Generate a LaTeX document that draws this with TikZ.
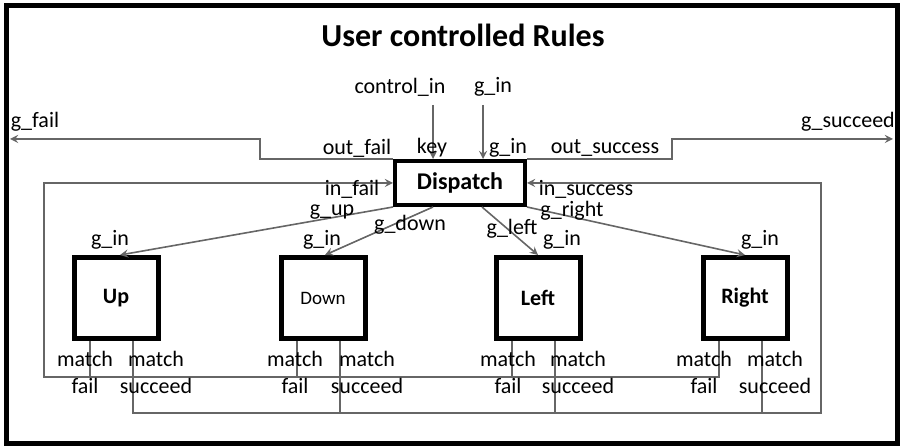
\documentclass[tikz,border=0pt]{standalone}
\usepackage{fontspec}
\setmainfont{Carlito}
\usepackage{tikz}
\usetikzlibrary{shapes.geometric, arrows}
\tikzstyle{rulebox} = [rectangle, minimum width=42pt, minimum height=40.5pt, text centered, draw=black, line width=2.5pt, font=\bfseries\fontsize{11}{13}\selectfont]
\tikzstyle{dispatcher} = [rectangle, minimum width=65pt, minimum height=22pt, text centered, draw=black, line width=2pt, font=\bfseries\fontsize{12}{14}\selectfont]
\tikzstyle{port} = [inner sep=0pt, align=center, font=\fontsize{11}{13.5}\selectfont]
\tikzstyle{wire} = [line width=0.8pt, draw=black!60]
\tikzstyle{arrow} = [wire,->,>=stealth]

\begin{document}
\begin{tikzpicture}[x=0.5pt, y=-0.5pt]
\useasboundingbox (0,0) rectangle (901,448);
\draw [line width=2.5pt] (6,6) rectangle (897,444);
\node (title) [font=\bfseries\fontsize{16}{18}\selectfont] at (463,35) {User controlled Rules};
\node (dispatch) [dispatcher] at (460,183) {Dispatch};
\node (up) [rulebox] at (116,298) {Up};
\node (down) [rulebox, font=\fontsize{9.5}{11}\selectfont] at (323,298) {Down};
\node (left) [rulebox] at (538,298) {Left};
\node (right) [rulebox] at (745,298) {Right};
\coordinate (ctrlsrc) at (433,105);
\coordinate (ginsrc) at (483,105);
\coordinate (gfail) at (10,139);
\coordinate (gsucceed) at (893,139);
\coordinate (failbus) at (44,377);
\coordinate (succbus) at (821,413);
% inputs and global outputs
\draw [arrow] (ctrlsrc) -- (ctrlsrc |- dispatch.north);
\draw [arrow] (ginsrc) -- (ginsrc |- dispatch.north);
\draw [arrow] (dispatch.north west) -- ++(-133,0) |- (gfail);
\draw [arrow] (dispatch.north east) -- ++(145,0) |- (gsucceed);
% dispatch to the rules
\draw [arrow] (dispatch.south west) -- ([xshift=2pt]up.north);
\draw [arrow] ([xshift=-13.5pt]dispatch.south) -- ([xshift=1pt]down.north);
\draw [arrow] ([xshift=11pt]dispatch.south) -- (left.north);
\draw [arrow] (dispatch.south east) -- (right.north);
% fail bus
\draw [arrow] ([xshift=-13pt]right.south) |- (failbus) |- (dispatch.west);
\draw [wire] ([xshift=-13pt]up.south) -- ([xshift=-13pt]up.south |- failbus);
\draw [wire] ([xshift=-13pt]down.south) -- ([xshift=-13pt]down.south |- failbus);
\draw [wire] ([xshift=-13pt]left.south) -- ([xshift=-13pt]left.south |- failbus);
% succeed bus
\draw [arrow] ([xshift=8.5pt]up.south) |- (succbus) |- (dispatch.east);
\draw [wire] ([xshift=8.5pt]down.south) -- ([xshift=8.5pt]down.south |- succbus);
\draw [wire] ([xshift=8.5pt]left.south) -- ([xshift=8.5pt]left.south |- succbus);
\draw [wire] ([xshift=8.5pt]right.south) -- ([xshift=8.5pt]right.south |- succbus);
% labels
\node (lcontrol) [port] at (400,87) {control\_in};
\node (lgin) [port] at (493,87) {g\_in};
\node (loutfail) [port] at (357,148) {out\_fail};
\node (lkey) [port] at (432,148) {key};
\node (lgindisp) [port] at (508,148) {g\_in};
\node (loutsucc) [port] at (605,148) {out\_success};
\node (lgfail) [port] at (35,122) {g\_fail};
\node (lgsucc) [port] at (848,122) {g\_succeed};
\node (linfail) [port] at (352,189) {in\_fail};
\node (linsucc) [port] at (586,189) {in\_success};
\node (lgup) [port] at (332,212) {g\_up};
\node (lgright) [port] at (572,211) {g\_right};
\node (lgdown) [port] at (410,225) {g\_down};
\node (lgleft) [port] at (512,229) {g\_left};
\node (lginup) [port] at (110,240) {g\_in};
\node (lgindown) [port] at (322,240) {g\_in};
\node (lginleft) [port] at (562,240) {g\_in};
\node (lginright) [port] at (760,240) {g\_in};
\node (upfail) [port] at (85,372) {match\\fail};
\node (upsucc) [port] at (156,372) {match\\succeed};
\node (downfail) [port] at (295,372) {match\\fail};
\node (downsucc) [port] at (367,372) {match\\succeed};
\node (leftfail) [port] at (508,372) {match\\fail};
\node (leftsucc) [port] at (578,372) {match\\succeed};
\node (rightfail) [port] at (704,372) {match\\fail};
\node (rightsucc) [port] at (775,372) {match\\succeed};
\end{tikzpicture}
\end{document}
